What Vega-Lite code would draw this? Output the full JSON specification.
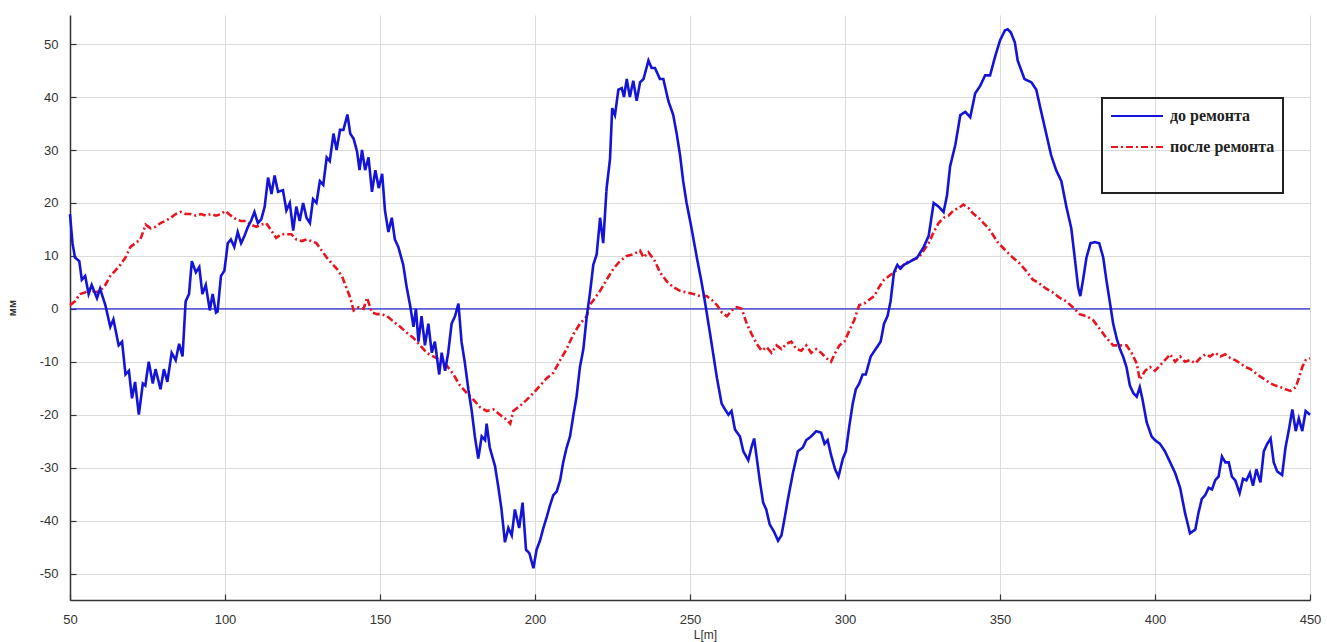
{
  "$schema": "https://vega.github.io/schema/vega-lite/v6.json",
  "autosize": "none",
  "width": 1240,
  "height": 585,
  "padding": {"left": 70, "top": 15, "right": 17, "bottom": 42},
  "background": "white",
  "config": {
    "view": {"stroke": null},
    "axis": {
      "labelFont": "Liberation Sans", "labelFontSize": 13, "labelColor": "#333",
      "titleFont": "Liberation Sans", "titleFontSize": 12, "titleColor": "#333",
      "gridColor": "#dcdcdc", "gridWidth": 1,
      "domainColor": "#333", "domainWidth": 1.5,
      "tickColor": "#333", "tickSize": -6, "tickWidth": 1.2,
      "labelFlush": false,
      "labelExpr": "'' + datum.value"
    },
    "legend": {
      "orient": "none", "legendX": 1032, "legendY": 83,
      "strokeColor": "#222", "strokeWidth": 2, "padding": 8,
      "labelFont": "Liberation Serif", "labelFontSize": 16, "labelFontWeight": "bold", "labelColor": "#222",
      "symbolType": "stroke", "symbolSize": 2704, "symbolStrokeWidth": 2,
      "clipHeight": 20, "rowPadding": 11, "labelOffset": 6, "labelLimit": 300
    }
  },
  "datasets": {
    "blue": [
      {"L":50,"v":17.9},{"L":50.8,"v":12.4},{"L":51.6,"v":9.7},{"L":53,"v":9},{"L":53.8,"v":5.5},{"L":54.9,"v":6.2},{"L":56,"v":2.8},{"L":57,"v":4.5},{"L":58.7,"v":2},{"L":59.7,"v":3.8},{"L":61.4,"v":0.7},{"L":63,"v":-3.4},{"L":64,"v":-2},{"L":65.7,"v":-6.9},{"L":66.8,"v":-6.2},{"L":67.9,"v":-12.4},{"L":69,"v":-11.7},{"L":70,"v":-16.9},{"L":71,"v":-13.8},{"L":72.2,"v":-20},{"L":73.5,"v":-14.1},{"L":74.3,"v":-14.5},{"L":75.4,"v":-10},{"L":76.7,"v":-14.1},{"L":77.6,"v":-11.4},{"L":79.2,"v":-15.2},{"L":80.3,"v":-11.4},{"L":81.4,"v":-13.8},{"L":82.8,"v":-8.3},{"L":84.1,"v":-9.7},{"L":85.2,"v":-6.6},{"L":86.3,"v":-9},{"L":87.3,"v":1.4},{"L":88.4,"v":2.8},{"L":89.3,"v":9},{"L":90.6,"v":6.9},{"L":91.7,"v":7.9},{"L":92.7,"v":2.8},{"L":93.8,"v":4.5},{"L":95.1,"v":-0.3},{"L":96,"v":2.8},{"L":97.1,"v":-0.7},{"L":97.6,"v":-0.5},{"L":98.7,"v":6.2},{"L":99.8,"v":7.2},{"L":100.9,"v":12.4},{"L":101.9,"v":13.1},{"L":103,"v":11.7},{"L":104.1,"v":14.5},{"L":105.2,"v":12.4},{"L":106.3,"v":13.8},{"L":107.4,"v":15.5},{"L":108.4,"v":16.6},{"L":109.5,"v":18.3},{"L":110.6,"v":16.2},{"L":111.7,"v":16.9},{"L":112.8,"v":19.3},{"L":113.9,"v":24.8},{"L":115,"v":21.7},{"L":116,"v":25.2},{"L":117.1,"v":22.1},{"L":118.7,"v":22.4},{"L":119.8,"v":18.6},{"L":120.9,"v":20},{"L":122,"v":14.8},{"L":123,"v":19.3},{"L":124.1,"v":16.6},{"L":125.2,"v":20},{"L":126.3,"v":17.2},{"L":127.4,"v":16.2},{"L":128.4,"v":20.7},{"L":129.5,"v":20},{"L":130.6,"v":24.1},{"L":131.7,"v":23.4},{"L":132.8,"v":28.6},{"L":133.8,"v":27.9},{"L":135,"v":33.1},{"L":136,"v":30},{"L":137.1,"v":33.8},{"L":138.2,"v":33.8},{"L":139.5,"v":36.7},{"L":140.4,"v":33.1},{"L":141.5,"v":32.1},{"L":142.6,"v":29.7},{"L":143.4,"v":26.2},{"L":144.2,"v":30},{"L":145.2,"v":26.2},{"L":146.3,"v":28.6},{"L":147.4,"v":22.1},{"L":148.5,"v":26.2},{"L":149.6,"v":22.8},{"L":150.7,"v":25.5},{"L":151.6,"v":18.6},{"L":152.7,"v":14.5},{"L":153.8,"v":17.2},{"L":154.8,"v":13.1},{"L":155.9,"v":11.7},{"L":157.5,"v":8.3},{"L":158.6,"v":4.1},{"L":159.7,"v":0.7},{"L":160.8,"v":-3.4},{"L":161.6,"v":0},{"L":162.4,"v":-6.2},{"L":163.4,"v":-1.4},{"L":164.5,"v":-6.9},{"L":165.6,"v":-2.8},{"L":166.7,"v":-8.3},{"L":167.7,"v":-6.2},{"L":169.1,"v":-12.4},{"L":169.9,"v":-8.3},{"L":171,"v":-11.7},{"L":172,"v":-8.3},{"L":173.1,"v":-2.8},{"L":174.2,"v":-1.4},{"L":175.3,"v":1},{"L":176.3,"v":-6.2},{"L":177.4,"v":-10.3},{"L":178.5,"v":-15.2},{"L":179.6,"v":-19.3},{"L":180.6,"v":-24.1},{"L":181.7,"v":-28.3},{"L":182.8,"v":-24.1},{"L":183.9,"v":-24.8},{"L":184.4,"v":-21.7},{"L":185.4,"v":-26.2},{"L":187.1,"v":-29.7},{"L":188.2,"v":-33.8},{"L":189.2,"v":-37.9},{"L":190.3,"v":-44.1},{"L":191.4,"v":-41.4},{"L":192.5,"v":-42.8},{"L":193.5,"v":-37.9},{"L":194.9,"v":-41.4},{"L":196,"v":-36.6},{"L":197.1,"v":-45.5},{"L":198.2,"v":-46.2},{"L":199.5,"v":-49},{"L":200.5,"v":-45.5},{"L":201.6,"v":-43.8},{"L":202.7,"v":-41.4},{"L":203.8,"v":-39.3},{"L":204.8,"v":-37.2},{"L":205.9,"v":-35.2},{"L":207,"v":-34.5},{"L":208.1,"v":-32.4},{"L":209.1,"v":-29},{"L":210.2,"v":-26.2},{"L":211.3,"v":-24.1},{"L":212.4,"v":-20},{"L":213.4,"v":-16.6},{"L":214.5,"v":-11},{"L":215.6,"v":-7.6},{"L":216.7,"v":-1.4},{"L":217.7,"v":2.8},{"L":218.8,"v":8.3},{"L":219.9,"v":10.3},{"L":221,"v":17.2},{"L":222,"v":12.4},{"L":223.1,"v":22.8},{"L":224.2,"v":28.3},{"L":224.9,"v":37.9},{"L":225.8,"v":36.6},{"L":226.9,"v":41.4},{"L":228,"v":41.7},{"L":228.7,"v":40},{"L":229.6,"v":43.4},{"L":230.6,"v":40},{"L":231.7,"v":43.1},{"L":232.8,"v":39.3},{"L":233.9,"v":42.8},{"L":235,"v":43.4},{"L":236.6,"v":46.9},{"L":237.6,"v":45.5},{"L":238.7,"v":45.5},{"L":240.3,"v":43.4},{"L":241.4,"v":43.4},{"L":243,"v":39.3},{"L":244.6,"v":36.6},{"L":245.7,"v":33.1},{"L":246.8,"v":29},{"L":247.8,"v":24.1},{"L":248.9,"v":20},{"L":250.5,"v":15.2},{"L":252.2,"v":9.7},{"L":253.8,"v":4.8},{"L":254.8,"v":1.4},{"L":256.5,"v":-4.8},{"L":258.7,"v":-13.1},{"L":260.2,"v":-17.9},{"L":261.3,"v":-19},{"L":262.4,"v":-20},{"L":263.4,"v":-19.3},{"L":264.5,"v":-22.8},{"L":266.1,"v":-24.1},{"L":267.2,"v":-26.9},{"L":268.8,"v":-28.6},{"L":269.8,"v":-26.2},{"L":270.7,"v":-24.5},{"L":271.4,"v":-27.6},{"L":272.5,"v":-32.4},{"L":273.6,"v":-36.6},{"L":274.6,"v":-37.9},{"L":275.7,"v":-40.7},{"L":277.1,"v":-42.1},{"L":278.4,"v":-43.8},{"L":279.5,"v":-42.8},{"L":280.6,"v":-39.3},{"L":281.6,"v":-35.9},{"L":283.2,"v":-31},{"L":284.8,"v":-26.9},{"L":286.4,"v":-26.2},{"L":287.5,"v":-24.8},{"L":289.1,"v":-24.1},{"L":290.7,"v":-23.1},{"L":292.3,"v":-23.4},{"L":293.4,"v":-25.5},{"L":294.4,"v":-24.8},{"L":295.5,"v":-27.6},{"L":296.8,"v":-30.3},{"L":297.9,"v":-31.7},{"L":299.3,"v":-28.3},{"L":300.3,"v":-26.9},{"L":301.4,"v":-22.1},{"L":302.5,"v":-17.9},{"L":303.5,"v":-15.2},{"L":304.6,"v":-14.1},{"L":305.7,"v":-12.4},{"L":306.7,"v":-12.4},{"L":308.3,"v":-9},{"L":309.9,"v":-7.6},{"L":311.5,"v":-6.2},{"L":312.6,"v":-2.8},{"L":313.7,"v":-1.4},{"L":314.7,"v":1.4},{"L":315.8,"v":6.9},{"L":316.9,"v":8.3},{"L":317.9,"v":7.6},{"L":319,"v":8.3},{"L":321.2,"v":9},{"L":323.3,"v":9.7},{"L":325.4,"v":11.7},{"L":327,"v":13.8},{"L":328.6,"v":20},{"L":330.2,"v":19.3},{"L":331.8,"v":18.3},{"L":332.9,"v":21.4},{"L":333.9,"v":26.9},{"L":335.6,"v":31},{"L":337.2,"v":36.6},{"L":338.8,"v":37.2},{"L":340.4,"v":36.2},{"L":342,"v":40.7},{"L":343.6,"v":42.1},{"L":345.2,"v":44.1},{"L":346.8,"v":44.1},{"L":348.4,"v":47.6},{"L":350,"v":50.7},{"L":351.6,"v":52.6},{"L":352.5,"v":52.8},{"L":353.5,"v":52.2},{"L":354.8,"v":50.3},{"L":355.7,"v":46.9},{"L":357.9,"v":43.4},{"L":360.1,"v":42.8},{"L":361.7,"v":41.4},{"L":363.3,"v":37.2},{"L":364.9,"v":33.1},{"L":366.5,"v":29},{"L":368.1,"v":26.2},{"L":369.8,"v":24.1},{"L":371.4,"v":19.3},{"L":373,"v":15.2},{"L":374.1,"v":9.7},{"L":375.2,"v":4.1},{"L":375.9,"v":2.4},{"L":376.8,"v":5.5},{"L":377.9,"v":9.7},{"L":379.2,"v":12.4},{"L":380.6,"v":12.6},{"L":382,"v":12.4},{"L":383.3,"v":9.7},{"L":384.3,"v":5.5},{"L":385.4,"v":1.4},{"L":386.5,"v":-2.8},{"L":387.6,"v":-5.5},{"L":388.7,"v":-7.6},{"L":389.7,"v":-9},{"L":390.8,"v":-11},{"L":391.9,"v":-14.5},{"L":393,"v":-15.9},{"L":394.1,"v":-16.6},{"L":395.1,"v":-14.8},{"L":396,"v":-17.2},{"L":397.3,"v":-21.4},{"L":398.9,"v":-24.1},{"L":400,"v":-24.8},{"L":401.6,"v":-25.5},{"L":403.2,"v":-26.9},{"L":404.9,"v":-29},{"L":406.5,"v":-31},{"L":408.1,"v":-33.8},{"L":409.7,"v":-38.6},{"L":411.3,"v":-42.4},{"L":413,"v":-41.7},{"L":414,"v":-38.6},{"L":415.1,"v":-35.9},{"L":416.2,"v":-35.2},{"L":417.3,"v":-33.8},{"L":418.4,"v":-34.1},{"L":419.4,"v":-32.4},{"L":420.5,"v":-31.7},{"L":421.6,"v":-27.9},{"L":422.7,"v":-29},{"L":423.8,"v":-29},{"L":424.8,"v":-31.7},{"L":425.9,"v":-32.4},{"L":427.3,"v":-34.8},{"L":428.4,"v":-32.1},{"L":429.5,"v":-32.4},{"L":430.6,"v":-31},{"L":431.6,"v":-33.4},{"L":432.7,"v":-30.3},{"L":434,"v":-32.8},{"L":435.1,"v":-26.9},{"L":436.2,"v":-25.5},{"L":437.3,"v":-24.5},{"L":438.3,"v":-29},{"L":439.4,"v":-30.7},{"L":441,"v":-31.4},{"L":442.1,"v":-26.2},{"L":443.2,"v":-22.8},{"L":444.3,"v":-19},{"L":445.4,"v":-23.1},{"L":446.4,"v":-20.7},{"L":447.5,"v":-23.1},{"L":448.6,"v":-19.3},{"L":450,"v":-20}
    ],
    "red": [
      {"L":50,"v":0.7},{"L":51.6,"v":1.4},{"L":53.2,"v":2.8},{"L":54.9,"v":3.1},{"L":56.5,"v":3.8},{"L":58.1,"v":3.1},{"L":59.7,"v":3.4},{"L":61.4,"v":4.5},{"L":63,"v":6.2},{"L":64.6,"v":7.2},{"L":66.2,"v":8.3},{"L":67.9,"v":9.7},{"L":69.5,"v":11.7},{"L":71.1,"v":12.4},{"L":72.7,"v":13.1},{"L":74.4,"v":15.9},{"L":76,"v":15.2},{"L":77.6,"v":15.5},{"L":79.2,"v":16.2},{"L":80.8,"v":16.6},{"L":82.5,"v":17.2},{"L":84.1,"v":17.9},{"L":85.7,"v":18.3},{"L":87.3,"v":17.9},{"L":89,"v":17.9},{"L":90.6,"v":17.6},{"L":92.2,"v":17.9},{"L":93.8,"v":17.6},{"L":95.5,"v":17.9},{"L":97.1,"v":17.6},{"L":98.7,"v":17.9},{"L":100.1,"v":18.5},{"L":101.9,"v":17.6},{"L":103.6,"v":16.9},{"L":105.2,"v":16.6},{"L":106.8,"v":16.6},{"L":108.4,"v":15.9},{"L":110.1,"v":15.5},{"L":111.7,"v":15.9},{"L":113.3,"v":16.2},{"L":114.9,"v":14.8},{"L":116.5,"v":13.4},{"L":118.2,"v":14.1},{"L":119.8,"v":14.1},{"L":121.4,"v":14.1},{"L":123,"v":13.1},{"L":124.7,"v":12.8},{"L":126.3,"v":13.1},{"L":127.9,"v":12.8},{"L":129.5,"v":12.4},{"L":131.2,"v":11},{"L":132.8,"v":9.7},{"L":134.4,"v":8.6},{"L":136,"v":7.6},{"L":137.7,"v":6.2},{"L":139.3,"v":3.8},{"L":140.4,"v":2.1},{"L":141.5,"v":-0.3},{"L":143.1,"v":0.3},{"L":144.7,"v":0},{"L":145.8,"v":2.1},{"L":147.4,"v":-0.7},{"L":149,"v":-1},{"L":150.6,"v":-1},{"L":152.3,"v":-1.4},{"L":154.3,"v":-2.4},{"L":156.5,"v":-3.4},{"L":158.6,"v":-4.5},{"L":160.8,"v":-5.5},{"L":162.9,"v":-6.9},{"L":165.1,"v":-8.3},{"L":167.2,"v":-9},{"L":169.4,"v":-9.7},{"L":171.5,"v":-10.7},{"L":173.7,"v":-12.4},{"L":175.8,"v":-14.5},{"L":178,"v":-15.9},{"L":180.2,"v":-17.2},{"L":182.3,"v":-18.6},{"L":184.4,"v":-19.3},{"L":186.6,"v":-19},{"L":188.7,"v":-20},{"L":190.3,"v":-20.7},{"L":192,"v":-21.7},{"L":193,"v":-19.3},{"L":195.2,"v":-18.3},{"L":197.3,"v":-17.2},{"L":199.5,"v":-15.9},{"L":201.6,"v":-14.5},{"L":203.8,"v":-13.1},{"L":205.9,"v":-12.1},{"L":208.1,"v":-9.7},{"L":210.2,"v":-7.6},{"L":212.4,"v":-4.8},{"L":214.5,"v":-2.8},{"L":216.7,"v":-1.4},{"L":217.7,"v":0.7},{"L":219.4,"v":2.1},{"L":221,"v":3.4},{"L":223.1,"v":5.5},{"L":225.3,"v":7.6},{"L":227.4,"v":9},{"L":229.6,"v":10},{"L":231.7,"v":10.3},{"L":233.9,"v":11},{"L":235,"v":9.7},{"L":236.6,"v":10.7},{"L":238.7,"v":9},{"L":240.3,"v":6.9},{"L":242.5,"v":5.2},{"L":244.6,"v":4.1},{"L":246.8,"v":3.4},{"L":248.9,"v":3.1},{"L":251.1,"v":2.8},{"L":253.2,"v":2.4},{"L":255.4,"v":2.4},{"L":257,"v":1.7},{"L":258.7,"v":0.7},{"L":260.3,"v":-0.7},{"L":261.9,"v":-1.4},{"L":263.5,"v":-0.3},{"L":265.1,"v":0.3},{"L":266.7,"v":0},{"L":268.3,"v":-2.8},{"L":269.9,"v":-4.8},{"L":271.5,"v":-6.6},{"L":273.1,"v":-7.9},{"L":274.7,"v":-7.2},{"L":276.3,"v":-8.3},{"L":277.9,"v":-6.9},{"L":279.5,"v":-7.6},{"L":281.1,"v":-6.6},{"L":282.7,"v":-6.2},{"L":284.3,"v":-7.6},{"L":285.9,"v":-7.9},{"L":287.5,"v":-6.9},{"L":289.1,"v":-8.3},{"L":290.7,"v":-7.6},{"L":292.3,"v":-8.3},{"L":293.9,"v":-9.3},{"L":295.5,"v":-10},{"L":296.6,"v":-8.6},{"L":298.2,"v":-6.9},{"L":299.8,"v":-6.2},{"L":301.4,"v":-4.1},{"L":303,"v":-2.1},{"L":304.6,"v":0.7},{"L":306.2,"v":1},{"L":307.8,"v":1.7},{"L":309.4,"v":2.4},{"L":311,"v":4.1},{"L":312.6,"v":5.5},{"L":314.2,"v":6.2},{"L":315.8,"v":6.9},{"L":317.4,"v":7.6},{"L":319,"v":8.3},{"L":320.6,"v":9},{"L":322.2,"v":9.3},{"L":323.8,"v":9.7},{"L":325.4,"v":11},{"L":327,"v":12.4},{"L":328.6,"v":14.5},{"L":330.2,"v":16.2},{"L":331.8,"v":17.2},{"L":333.4,"v":17.6},{"L":335,"v":18.6},{"L":336.6,"v":19},{"L":338.2,"v":19.7},{"L":339.9,"v":19},{"L":341.5,"v":17.9},{"L":343.1,"v":17.2},{"L":344.7,"v":16.2},{"L":346.3,"v":15.2},{"L":347.9,"v":13.8},{"L":349.5,"v":12.4},{"L":351.5,"v":11.2},{"L":354.1,"v":9.7},{"L":356.3,"v":8.6},{"L":358.4,"v":7.2},{"L":360.6,"v":5.5},{"L":362.7,"v":4.8},{"L":364.9,"v":3.8},{"L":367,"v":3.1},{"L":369.2,"v":2.1},{"L":371.4,"v":1.4},{"L":373.5,"v":0.3},{"L":375.7,"v":-1},{"L":377.9,"v":-1.4},{"L":380,"v":-2.1},{"L":382.2,"v":-3.8},{"L":384.3,"v":-5.5},{"L":386.5,"v":-6.9},{"L":388.7,"v":-6.9},{"L":390.8,"v":-6.9},{"L":392.4,"v":-8.3},{"L":394.1,"v":-10.3},{"L":395.1,"v":-13.4},{"L":396.8,"v":-11.7},{"L":398.4,"v":-11},{"L":400,"v":-11.7},{"L":401.6,"v":-10.7},{"L":403.2,"v":-9.7},{"L":404.9,"v":-8.6},{"L":406.5,"v":-10},{"L":408.1,"v":-9},{"L":409.7,"v":-10},{"L":411.3,"v":-9.7},{"L":413,"v":-10.3},{"L":414.6,"v":-9.3},{"L":416.2,"v":-8.6},{"L":417.8,"v":-9},{"L":419.4,"v":-8.3},{"L":421.1,"v":-9},{"L":422.7,"v":-8.6},{"L":424.3,"v":-9.3},{"L":425.9,"v":-9.7},{"L":427.5,"v":-10.3},{"L":429.2,"v":-11},{"L":430.8,"v":-11.4},{"L":432.4,"v":-12.1},{"L":434,"v":-12.8},{"L":435.6,"v":-13.4},{"L":437.3,"v":-14.1},{"L":438.9,"v":-14.5},{"L":440.5,"v":-14.8},{"L":442.1,"v":-15.2},{"L":443.7,"v":-15.5},{"L":445.4,"v":-14.8},{"L":446.4,"v":-13.1},{"L":447.5,"v":-11},{"L":448.6,"v":-9.7},{"L":450,"v":-9.3}
    ],
    "zero": [{"v": 0}]
  },
  "encoding": {
    "x": {"field": "L", "type": "quantitative", "title": "L[m]",
      "scale": {"domain": [50, 450], "nice": false, "zero": false},
      "axis": {"values": [50,100,150,200,250,300,350,400,450], "grid": true, "labelPadding": 19, "titlePadding": 3, "titleFontWeight": "normal", "titleX": 635}},
    "y": {"field": "v", "type": "quantitative", "title": "мм",
      "scale": {"domain": [-55, 55.5], "nice": false, "zero": false},
      "axis": {"values": [-50,-40,-30,-20,-10,0,10,20,30,40,50], "grid": true, "labelPadding": 18, "titlePadding": 22, "titleFontWeight": "bold", "titleFontSize": 11}}
  },
  "layer": [
    {
      "data": {"name": "zero"},
      "mark": {"type": "rule", "color": "#2a2ad0", "strokeWidth": 1.3},
      "encoding": {"x": null}
    },
    {
      "data": {"name": "red"},
      "mark": {"type": "line", "strokeWidth": 2.6, "interpolate": "linear"},
      "encoding": {
        "color": {"datum": "после ремонта", "type": "nominal",
          "scale": {"domain": ["до ремонта", "после ремонта"], "range": ["#1414d8", "#e8141e"]},
          "legend": {"title": ".", "titleOrient": "bottom", "titleColor": "white", "titleFontSize": 14, "titlePadding": 14}},
        "strokeDash": {"datum": "после ремонта", "type": "nominal",
          "scale": {"domain": ["до ремонта", "после ремонта"], "range": [[1, 0], [7, 3, 2, 3]]},
          "legend": {"title": ".", "titleOrient": "bottom", "titleColor": "white", "titleFontSize": 14, "titlePadding": 14}}
      }
    },
    {
      "data": {"name": "blue"},
      "mark": {"type": "line", "strokeWidth": 2.6, "interpolate": "linear"},
      "encoding": {
        "color": {"datum": "до ремонта", "type": "nominal"},
        "strokeDash": {"datum": "до ремонта", "type": "nominal"}
      }
    }
  ]
}
